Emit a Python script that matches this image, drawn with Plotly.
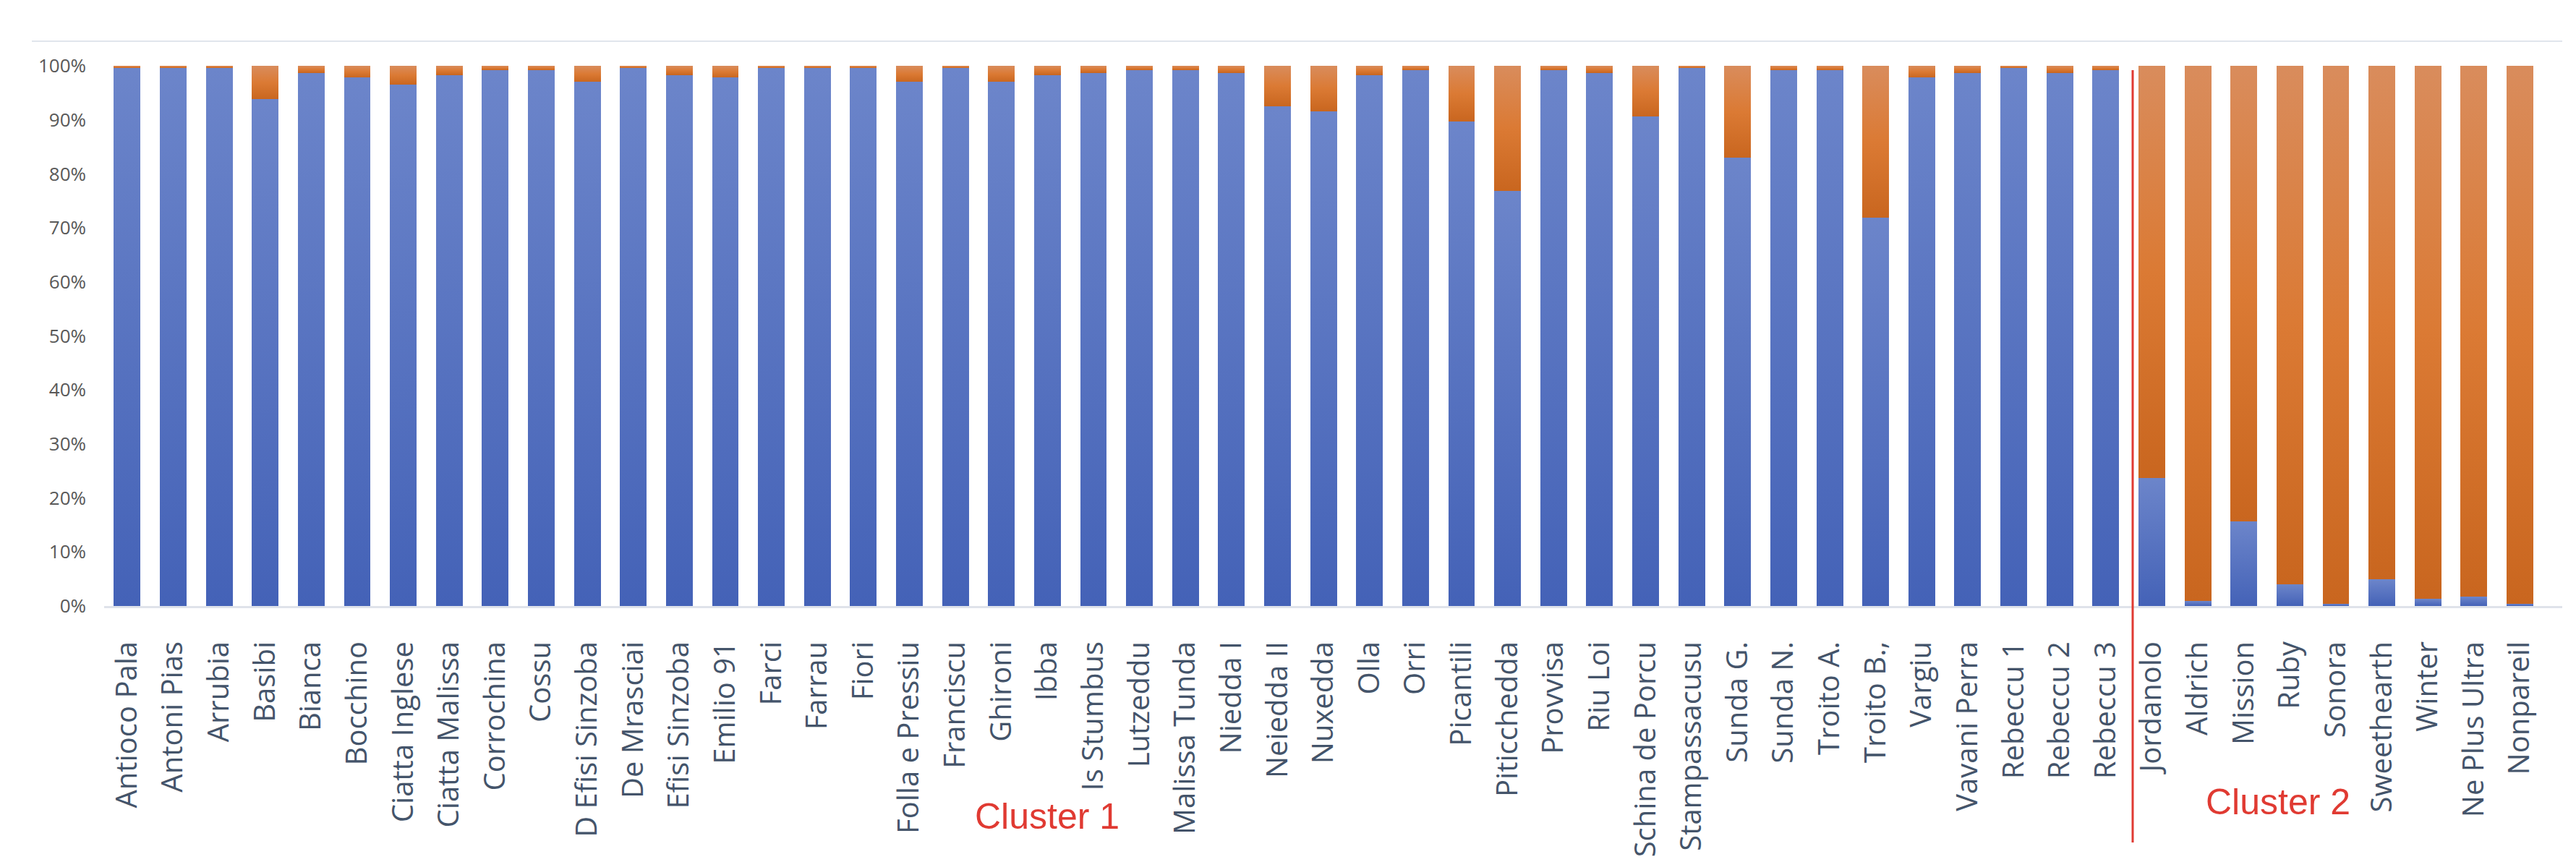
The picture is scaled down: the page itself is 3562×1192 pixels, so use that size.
import plotly.graph_objects as go

categories = [
    "Antioco Pala", "Antoni Pias", "Arrubia", "Basibi", "Bianca", "Bocchino",
    "Ciatta Inglese", "Ciatta Malissa", "Corrochina", "Cossu", "D Efisi Sinzoba",
    "De Mrasciai", "Efisi Sinzoba", "Emilio 91", "Farci", "Farrau", "Fiori",
    "Folla e Pressiu", "Franciscu", "Ghironi", "Ibba", "Is Stumbus", "Lutzeddu",
    "Malissa Tunda", "Niedda I", "Neiedda II", "Nuxedda", "Olla", "Orri",
    "Picantili", "Piticchedda", "Provvisa", "Riu Loi", "Schina de Porcu",
    "Stampassacusu", "Sunda G.", "Sunda N.", "Troito A.", "Troito B.,", "Vargiu",
    "Vavani Perra", "Rebeccu 1", "Rebeccu 2", "Rebeccu 3",
    "Jordanolo", "Aldrich", "Mission", "Ruby", "Sonora", "Sweethearth", "Winter",
    "Ne Plus Ultra", "Nonpareil",
]

# share of the first (blue) component, in %
blue_pct = [
    99.6, 99.6, 99.6, 93.8, 98.7, 97.8, 96.5, 98.3, 99.2, 99.2, 97.0,
    99.6, 98.3, 97.8, 99.6, 99.6, 99.6, 97.0, 99.6, 97.0, 98.3, 98.7, 99.2,
    99.2, 98.7, 92.5, 91.6, 98.3, 99.2, 89.7, 76.9, 99.2, 98.7, 90.6,
    99.6, 83.0, 99.2, 99.2, 71.9, 97.8, 98.7, 99.6, 98.7, 99.2,
    23.7, 0.9, 15.6, 4.0, 0.4, 4.9, 1.3, 1.7, 0.4,
]

# share of the second (orange) component, in %
orange_pct = [
    0.4, 0.4, 0.4, 6.2, 1.3, 2.2, 3.5, 1.7, 0.8, 0.8, 3.0,
    0.4, 1.7, 2.2, 0.4, 0.4, 0.4, 3.0, 0.4, 3.0, 1.7, 1.3, 0.8,
    0.8, 1.3, 7.5, 8.4, 1.7, 0.8, 10.3, 23.1, 0.8, 1.3, 9.4,
    0.4, 17.0, 0.8, 0.8, 28.1, 2.2, 1.3, 0.4, 1.3, 0.8,
    76.3, 99.1, 84.4, 96.0, 99.6, 95.1, 98.7, 98.3, 99.6,
]

cluster_labels = ["Cluster 1", "Cluster 2"]

W, H = 3562, 1192
L, R, T, B = 136, 27, 83, 362
PW, PH = W - L - R, H - T - B

def px_x(x):
    return (x - L) / PW

def px_y(y):
    return (H - B - y) / PH

fig = go.Figure()
fig.add_trace(go.Bar(
    x=categories, y=[v / 100 for v in blue_pct], name="A",
    marker=dict(color="#5873c2", line=dict(width=0)),
))
fig.add_trace(go.Bar(
    x=categories, y=[v / 100 for v in orange_pct], name="B",
    marker=dict(color="#d67934", line=dict(width=0)),
))

fig.update_layout(
    width=W, height=H,
    barmode="stack", bargap=0.42,
    showlegend=False,
    plot_bgcolor="white", paper_bgcolor="white",
    margin=dict(l=L, r=R, t=T, b=B, pad=0),
    font=dict(family="Open Sans, Liberation Sans, sans-serif", color="#595959"),
)

fig.update_xaxes(
    type="category", range=[-0.5, 52.92],
    showgrid=False, zeroline=False,
    showline=True, linecolor="#dfe3ea", linewidth=3,
    ticks="", tickangle=-90, ticklabelstandoff=30,
    tickfont=dict(family="Open Sans, sans-serif", size=40, color="#44546A"),
)
fig.update_yaxes(
    range=[0, 1], dtick=0.1, tickformat=".0%",
    showgrid=False, zeroline=False, showline=False,
    ticks="", ticklabelstandoff=24,
    tickfont=dict(family="Open Sans, sans-serif", size=26, color="#595959"),
)

# top border line of the chart
fig.add_shape(type="line", xref="paper", yref="paper",
              x0=px_x(36), x1=1.0, y0=px_y(49), y1=px_y(49),
              line=dict(color="#e1e5ec", width=2))
# red separator line between clusters
fig.add_shape(type="line", xref="paper", yref="paper",
              x0=px_x(2941), x1=px_x(2941), y0=px_y(89), y1=px_y(1157),
              line=dict(color="#e03a32", width=3))

fig.add_annotation(text=cluster_labels[0], xref="paper", yref="paper",
                   x=px_x(1440), y=px_y(1121), showarrow=False,
                   xanchor="center", yanchor="middle",
                   font=dict(family="Liberation Sans, Arial, sans-serif", size=50, color="#e03a32"))
fig.add_annotation(text=cluster_labels[1], xref="paper", yref="paper",
                   x=px_x(3142), y=px_y(1101), showarrow=False,
                   xanchor="center", yanchor="middle",
                   font=dict(family="Liberation Sans, Arial, sans-serif", size=50, color="#e03a32"))

post_script = """
var gd = document.getElementById('{plot_id}');
function applyGrad(){
  var svg = gd.querySelector('svg.main-svg');
  if(!svg) return;
  var ns = 'http://www.w3.org/2000/svg';
  var defs = svg.querySelector('defs');
  if(!document.getElementById('gBlueFill')){
    var grads = [
      ['gBlueFill', [['0', '#6c85ca'], ['1', '#4462b7']]],
      ['gOrangeFill', [['0', '#d98c5c'], ['0.5', '#db7a34'], ['1', '#c9661f']]]
    ];
    grads.forEach(function(g){
      var lg = document.createElementNS(ns, 'linearGradient');
      lg.setAttribute('id', g[0]);
      lg.setAttribute('x1', '0'); lg.setAttribute('y1', '0');
      lg.setAttribute('x2', '0'); lg.setAttribute('y2', '1');
      g[1].forEach(function(s){
        var st = document.createElementNS(ns, 'stop');
        st.setAttribute('offset', s[0]);
        st.setAttribute('stop-color', s[1]);
        lg.appendChild(st);
      });
      defs.appendChild(lg);
    });
  }
  var traces = gd.querySelectorAll('g.trace.bars');
  traces.forEach(function(t, i){
    t.querySelectorAll('path').forEach(function(p){
      p.style.fill = (i === 0) ? 'url(#gBlueFill)' : 'url(#gOrangeFill)';
    });
  });
}
applyGrad();
gd.on('plotly_afterplot', applyGrad);
"""

fig.write_html("out.html", post_script=post_script)
